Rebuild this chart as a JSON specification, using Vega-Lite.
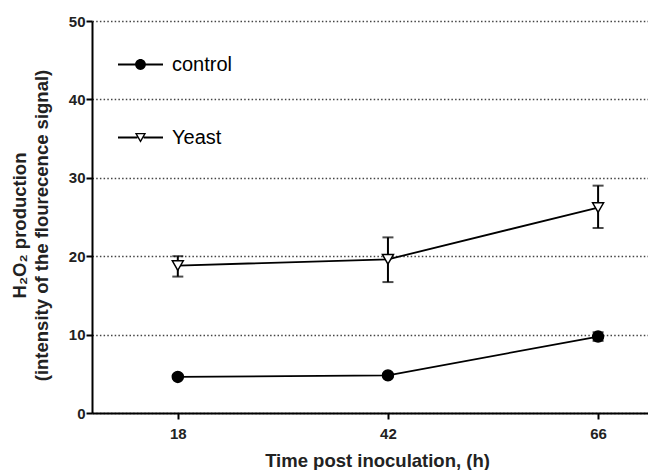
{
  "$schema": "https://vega.github.io/schema/vega-lite/v6.json",
  "width": 556,
  "height": 392,
  "autosize": "none",
  "padding": {"left": 92, "top": 21, "right": 0, "bottom": 57},
  "background": "white",
  "data": {
    "values": [
      {"time": 18, "group": "control", "mean": 4.6, "lo": 4.4, "hi": 4.9},
      {"time": 42, "group": "control", "mean": 4.8, "lo": 4.6, "hi": 5.0},
      {"time": 66, "group": "control", "mean": 9.75, "lo": 9.2, "hi": 10.3},
      {"time": 18, "group": "Yeast", "mean": 18.8, "lo": 17.4, "hi": 20.0},
      {"time": 42, "group": "Yeast", "mean": 19.6, "lo": 16.7, "hi": 22.4},
      {"time": 66, "group": "Yeast", "mean": 26.2, "lo": 23.6, "hi": 29.0}
    ]
  },
  "encoding": {
    "x": {
      "field": "time",
      "type": "quantitative",
      "scale": {"domain": [8.2, 71.7], "nice": false, "zero": false},
      "axis": {
        "values": [18, 42, 66],
        "title": "Time post inoculation, (h)",
        "titleX": 285,
        "grid": false,
        "labelPadding": 7,
        "titlePadding": 10
      }
    }
  },
  "layer": [
    {
      "mark": {"type": "line", "color": "black", "strokeWidth": 1.8},
      "encoding": {
        "y": {
          "field": "mean",
          "type": "quantitative",
          "title": ["H₂O₂ production", "(intensity of the flourecence signal)"],
          "scale": {"domain": [0, 50], "nice": false},
          "axis": {
            "values": [0, 10, 20, 30, 40, 50],
            "grid": true,
            "labelPadding": 1,
            "titlePadding": 17,
            "titleY": 204,
            "titleLineHeight": 22
          }
        },
        "detail": {"field": "group"}
      }
    },
    {
      "mark": {"type": "errorbar", "ticks": {"size": 11, "color": "black", "thickness": 2}, "rule": {"color": "black", "strokeWidth": 2}},
      "encoding": {
        "y": {"field": "lo", "type": "quantitative", "title": ["H₂O₂ production", "(intensity of the flourecence signal)"]},
        "y2": {"field": "hi"}
      }
    },
    {
      "mark": {"type": "point", "filled": true, "stroke": "black", "strokeWidth": 1.5, "size": 120, "opacity": 1},
      "encoding": {
        "y": {"field": "mean", "type": "quantitative", "title": ["H₂O₂ production", "(intensity of the flourecence signal)"]},
        "shape": {
          "field": "group",
          "type": "nominal",
          "scale": {"domain": ["control", "Yeast"], "range": ["circle", "triangle-down"]},
          "legend": null
        },
        "fill": {
          "field": "group",
          "type": "nominal",
          "scale": {"domain": ["control", "Yeast"], "range": ["black", "white"]},
          "legend": null
        }
      }
    },
    {
      "mark": {"type": "point", "filled": true, "color": "black", "size": 120, "opacity": 0},
      "encoding": {
        "y": {"field": "mean", "type": "quantitative", "title": ["H₂O₂ production", "(intensity of the flourecence signal)"]},
        "shape": {
          "field": "group",
          "type": "nominal",
          "scale": {
            "domain": ["control", "Yeast"],
            "range": [
              "M-1,-0.045L1,-0.045L1,0.045L-1,0.045ZM0.24,0C0.24,0.1325,0.1325,0.24,0,0.24C-0.1325,0.24,-0.24,0.1325,-0.24,0C-0.24,-0.1325,-0.1325,-0.24,0,-0.24C0.1325,-0.24,0.24,-0.1325,0.24,0Z",
              "M-1,-0.045L-0.14,-0.045L-0.14,0.045L-1,0.045ZM0.14,-0.045L1,-0.045L1,0.045L0.14,0.045ZM-0.25,-0.2L0.25,-0.2L0,0.23ZM-0.146,-0.14L0,0.111L0.146,-0.14Z"
            ]
          },
          "legend": {
            "orient": "none",
            "legendX": 26,
            "legendY": 21,
            "title": null,
            "padding": 0,
            "symbolSize": 2025,
            "symbolOpacity": 1,
            "symbolFillColor": "black",
            "symbolStrokeWidth": 0,
            "labelFontSize": 20,
            "labelFont": "Liberation Sans",
            "labelColor": "black",
            "labelOffset": 9,
            "rowPadding": 40
          }
        }
      }
    }
  ],
  "resolve": {"scale": {"shape": "independent"}},
  "config": {
    "view": {"stroke": null},
    "font": "Liberation Sans",
    "axis": {
      "domainColor": "black",
      "domainWidth": 2,
      "tickColor": "black",
      "tickWidth": 2,
      "tickSize": 6,
      "labelFont": "Liberation Sans",
      "labelFontSize": 15,
      "labelFontWeight": "bold",
      "labelColor": "#222",
      "titleFont": "Liberation Sans",
      "titleFontSize": 18.5,
      "titleFontWeight": "bold",
      "titleColor": "#222",
      "gridColor": "#444",
      "gridDash": [1.5, 2.2],
      "gridWidth": 1.5
    }
  }
}
